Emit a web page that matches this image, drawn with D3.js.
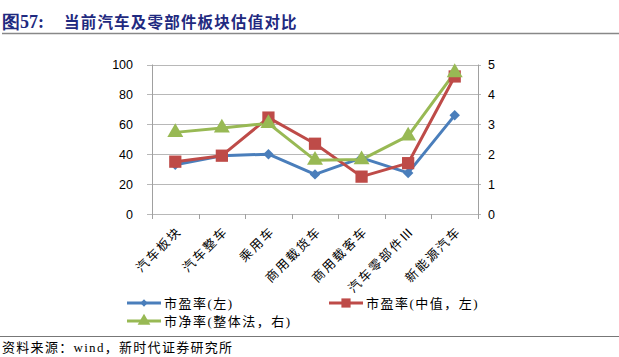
<!DOCTYPE html>
<html><head><meta charset="utf-8">
<script src="https://cdn.jsdelivr.net/npm/d3@7/dist/d3.min.js"></script>
<style>body{margin:0;background:#fff;}svg{display:block;}</style>
</head><body><svg id="c" width="619" height="357"></svg>
<script>
const categories = ["汽车板块","汽车整车","乘用车","商用载货车","商用载客车","汽车零部件Ⅲ","新能源汽车"];
const peValues = [33, 39, 40, 26.5, 37.5, 27.5, 66];
const peMedianValues = [35, 39, 64.5, 47, 25, 34, 92];
const pbValues = [2.73, 2.88, 3.03, 1.8, 1.82, 2.61, 4.73];
const leftTicks = [0,20,40,60,80,100];
const rightTicks = [0,1,2,3,4,5];
const seriesNames = ["市盈率(左)","市盈率(中值，左)","市净率(整体法，右)"];

const svg = d3.select("#c");
const cjk = "'Noto Sans CJK SC', sans-serif";
const mixed = "'Liberation Serif', 'Noto Sans CJK SC', serif";
const navy = "#1f2a80";

// title
svg.append("text").attr("x",2).attr("y",28).attr("fill",navy)
  .attr("font-family","'Liberation Serif', serif").attr("font-weight","bold").attr("font-size",18).text("图57:");
svg.append("text").attr("x",64).attr("y",28).attr("fill",navy).attr("letter-spacing",1.2)
  .attr("font-family",cjk).attr("font-weight","bold").attr("font-size",15.5).text("当前汽车及零部件板块估值对比");
svg.append("line").attr("x1",2).attr("x2",619).attr("y1",33.5).attr("y2",33.5).attr("stroke","#888").attr("stroke-width",1.5);

const L = 152, R = 478, T = 64.5, B = 214;
const x = d3.scaleBand().domain(categories).range([L,R]);
const yL = d3.scaleLinear().domain([0,100]).range([B,T]);
const yR = d3.scaleLinear().domain([0,5]).range([B,T]);

// gridlines
svg.append("g").selectAll("line").data(leftTicks).join("line")
  .attr("x1",L-5).attr("x2",R+3).attr("y1",d=>Math.round(yL(d))+0.5).attr("y2",d=>Math.round(yL(d))+0.5)
  .attr("stroke","#b8b8b8").attr("stroke-width",1);
svg.append("line").attr("x1",L+0.5).attr("x2",L+0.5).attr("y1",T).attr("y2",B).attr("stroke","#a0a0a0");
svg.append("line").attr("x1",R+0.5).attr("x2",R+0.5).attr("y1",T).attr("y2",B).attr("stroke","#a0a0a0");
const bounds = categories.map(c=>x(c)).concat([R]);
svg.append("g").selectAll("line").data(bounds).join("line")
  .attr("x1",d=>Math.round(d)+0.5).attr("x2",d=>Math.round(d)+0.5).attr("y1",B).attr("y2",B+5).attr("stroke","#a0a0a0");

const tickFont = "'Liberation Sans', Arial, sans-serif";
svg.append("g").selectAll("text").data(leftTicks).join("text")
  .attr("x",133).attr("y",d=>yL(d)+4.5).attr("text-anchor","end").attr("font-family",tickFont).attr("font-size",12.5).attr("fill","#000").text(d=>d);
svg.append("g").selectAll("text").data(rightTicks).join("text")
  .attr("x",488).attr("y",d=>yR(d)+4.5).attr("text-anchor","start").attr("font-family",tickFont).attr("font-size",12.5).attr("fill","#000").text(d=>d);

// x labels
svg.append("g").selectAll("text").data(categories).join("text")
  .attr("transform",d=>`translate(${x(d)+x.bandwidth()/2+7},${B+18}) rotate(-45)`)
  .attr("text-anchor","end").attr("letter-spacing",2).attr("font-family",cjk).attr("font-size",12.5).attr("fill","#000").text(d=>d);

const cx = d=>x(d)+x.bandwidth()/2;
const colors = ["#4a7ebb","#be4b48","#98b954"];
function drawLine(vals, yScale, color){
  const line = d3.line().x((v,i)=>cx(categories[i])).y(v=>yScale(v));
  svg.append("path").attr("d",line(vals)).attr("fill","none").attr("stroke",color).attr("stroke-width",3).attr("stroke-linejoin","round");
}
drawLine(peValues,yL,colors[0]);
drawLine(peMedianValues,yL,colors[1]);
drawLine(pbValues,yR,colors[2]);

const diamond = d3.symbol().type(d3.symbolDiamond2).size(70);
const square = d3.symbol().type(d3.symbolSquare).size(150);
const tri = d3.symbol().type(d3.symbolTriangle).size(110);
svg.append("g").selectAll("path").data(peValues).join("path")
  .attr("d",diamond).attr("transform",(v,i)=>`translate(${cx(categories[i])},${yL(v)})`).attr("fill",colors[0]);
svg.append("g").selectAll("path").data(peMedianValues).join("path")
  .attr("d",square).attr("transform",(v,i)=>`translate(${cx(categories[i])},${yL(v)})`).attr("fill",colors[1]);
svg.append("g").selectAll("path").data(pbValues).join("path")
  .attr("d",tri).attr("transform",(v,i)=>`translate(${cx(categories[i])},${yR(v)})`).attr("fill",colors[2]);

// legend
const legend = [
  {x:127,y:303,sym:diamond,s:0.7},
  {x:329,y:303,sym:square,s:0.75},
  {x:127,y:321,sym:tri,s:0.8}
];
legend.forEach((l,i)=>{
  const g = svg.append("g");
  g.append("line").attr("x1",l.x).attr("x2",l.x+34).attr("y1",l.y).attr("y2",l.y).attr("stroke",colors[i]).attr("stroke-width",3);
  g.append("path").attr("d",l.sym).attr("transform",`translate(${l.x+17},${l.y}) scale(${l.s})`).attr("fill",colors[i]);
  g.append("text").attr("x",l.x+37).attr("y",l.y+4.5).attr("font-family",mixed).attr("letter-spacing",1.5).attr("font-size",13).attr("fill","#000").text(seriesNames[i]);
});

// footer
svg.append("line").attr("x1",0).attr("x2",619).attr("y1",336.5).attr("y2",336.5).attr("stroke","#777").attr("stroke-width",1.2);
svg.append("text").attr("x",2).attr("y",352).attr("font-family",mixed).attr("letter-spacing",1.3).attr("font-size",13).attr("fill","#000").text("资料来源：wind，新时代证券研究所");
</script></body></html>
